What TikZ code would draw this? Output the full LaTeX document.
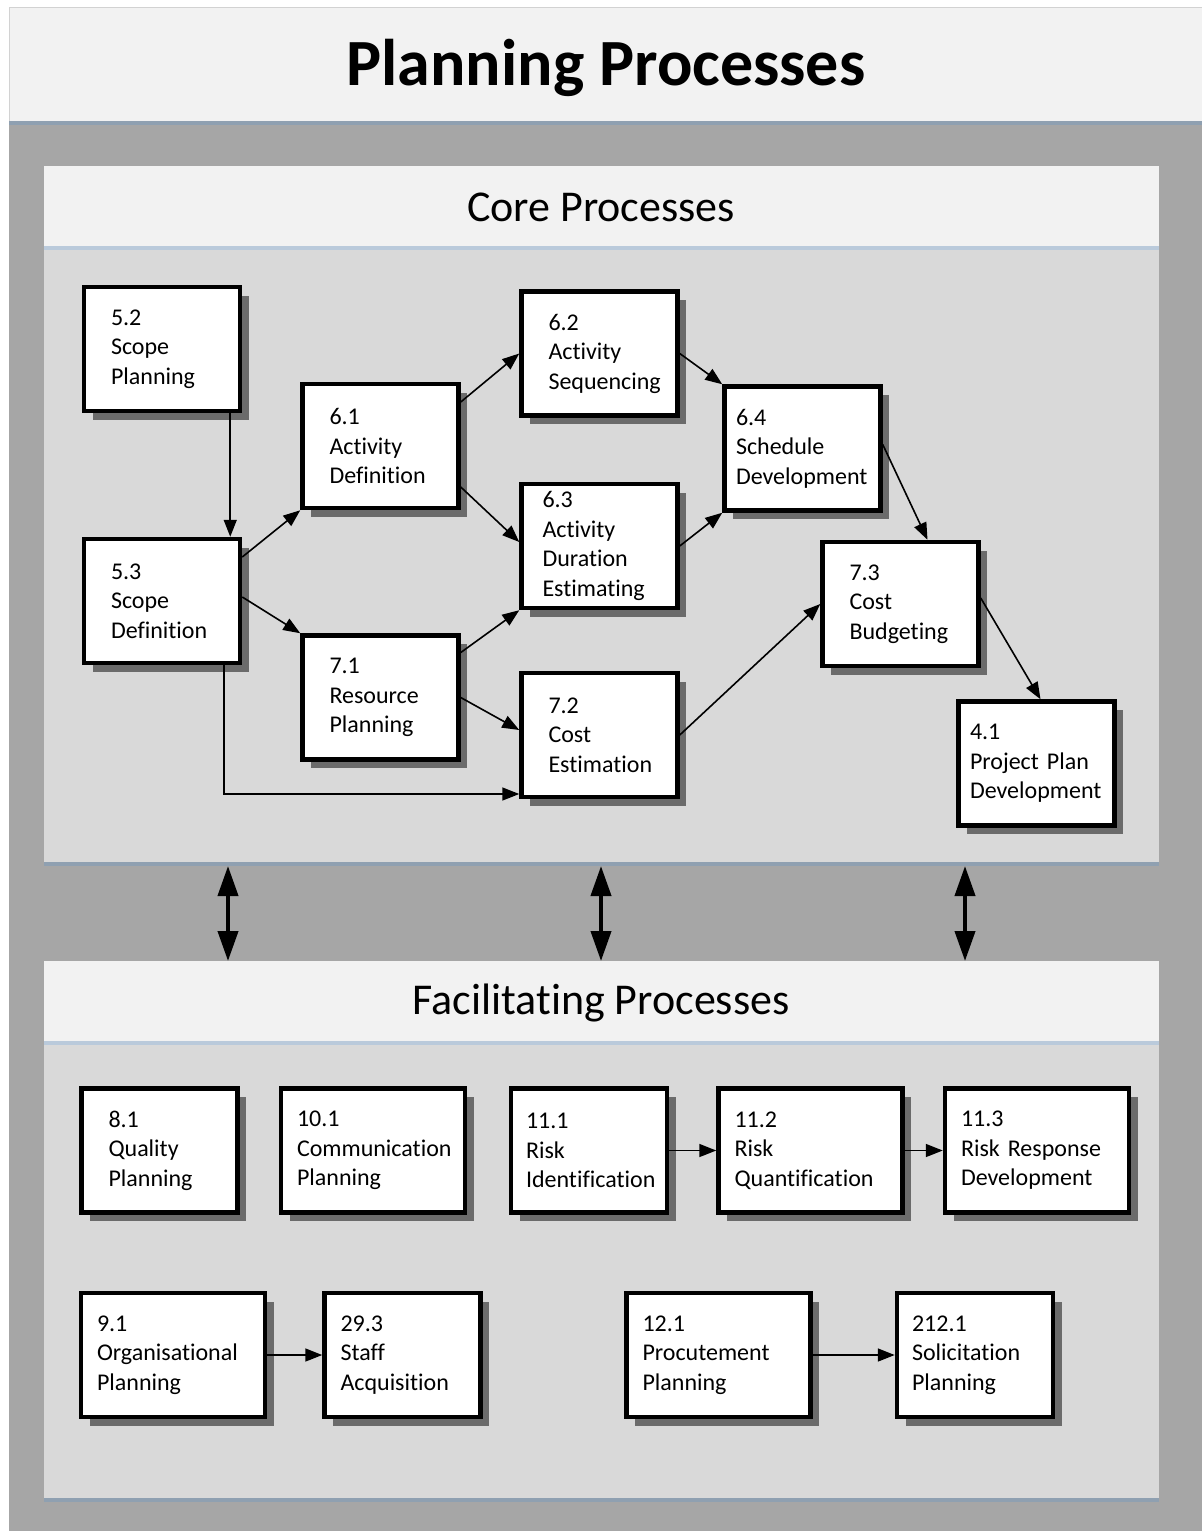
\documentclass[tikz,border=0pt]{standalone}
\usepackage{fontspec}
\setmainfont{Carlito}[Ligatures=NoCommon]
\usetikzlibrary{arrows.meta,shadows}

\definecolor{bandgray}{HTML}{F2F2F2}
\definecolor{bodygray}{HTML}{D9D9D9}
\definecolor{framegray}{HTML}{A6A6A6}
\definecolor{lineblue}{HTML}{BACADB}
\definecolor{linedark}{HTML}{8FA0B1}
\definecolor{shadowgray}{HTML}{6B6B6B}

\newcommand{\boxfont}{\fontsize{24}{29.5}\selectfont}

\tikzset{
  pbox/.style={draw, line width=4.5pt, fill=white, align=left, inner xsep=0pt,
    minimum width=156pt, minimum height=124pt, text width=102pt, font=\boxfont,
    drop shadow={shadow xshift=8.5pt, shadow yshift=-8.5pt, fill=shadowgray, opacity=1}},
  wide/.style={minimum width=184pt, text width=152pt},
  tw/.style={text width=#1},
  arr/.style={-{Triangle[length=17pt,width=13pt]}, line width=1.6pt},
  dbl/.style={{Triangle[length=30pt,width=20pt]}-{Triangle[length=30pt,width=20pt]}, line width=4pt}
}

\begin{document}
\begin{tikzpicture}[x=1pt,y=-1pt]
\useasboundingbox (0,0) rectangle (1202,1531);
% frame and main title band
\fill[white] (0,0) rectangle (1202,1531);
\fill[bandgray] (9,7) rectangle (1202,121);
\draw[gray!35, line width=1pt] (9,1531) -- (9,7) -- (1202,7);
\fill[linedark] (9,121) rectangle (1202,125);
\fill[framegray] (9,125) rectangle (1202,1531);
\node[font=\fontsize{66}{70}\selectfont\bfseries] (title) at (606,68) {Planning Processes};
% core panel
\fill[bandgray] (44,166) rectangle (1159,246);
\fill[lineblue] (44,246) rectangle (1159,250);
\fill[bodygray] (44,250) rectangle (1159,862);
\fill[linedark] (44,862) rectangle (1159,866);
\node[font=\fontsize{44}{48}\selectfont] (core) at (601,207) {Core Processes};
% facilitating panel
\fill[bandgray] (44,961) rectangle (1159,1041);
\fill[lineblue] (44,1041) rectangle (1159,1045);
\fill[bodygray] (44,1045) rectangle (1159,1498);
\fill[linedark] (44,1498) rectangle (1159,1502);
\node[font=\fontsize{44}{48}\selectfont] (facil) at (601,1003) {Facilitating Processes};

% core process boxes
\node[pbox] (p52) at (162,349) {5.2\\Scope\\Planning};
\node[pbox] (p53) at (162,601) {5.3\\Scope\\Definition};
\node[pbox] (p61) at (380.5,446) {6.1\\Activity\\Definition};
\node[pbox] (p62) at (599.5,353.5) {6.2\\Activity\\Sequencing};
\node[pbox, tw=114pt] (p63) at (599.5,546) {6.3\\Activity\\Duration\\Estimating};
\node[pbox, tw=133pt] (p64) at (802.5,448.5) {6.4\\Schedule\\Development};
\node[pbox] (p71) at (380.5,697.5) {7.1\\Resource\\Planning};
\node[pbox] (p72) at (599.5,735) {7.2\\Cost\\Estimation};
\node[pbox] (p73) at (900.5,604) {7.3\\Cost\\Budgeting};
\node[pbox, tw=133pt] (p41) at (1036.5,763.5) {4.1\\Project Plan\\Development};

% core flow
\draw[arr] ([xshift=-12pt]p52.south east) -- ([xshift=-12pt]p53.north east);
\draw[arr] ([yshift=44pt]p53.east) -- (p61.south west);
\draw[arr] ([yshift=4pt]p53.east) -- (p71.north west);
\draw[arr] ([xshift=-18pt]p53.south east) |- ([yshift=-59pt]p72.west);
\draw[arr] ([yshift=44pt]p61.east) -- (p62.west);
\draw[arr] ([yshift=-41pt]p61.east) -- ([yshift=4pt]p63.west);
\draw[arr] ([yshift=45pt]p71.east) -- (p63.south west);
\draw[arr] (p71.east) -- ([yshift=5pt]p72.west);
\draw[arr] (p62.east) -- (p64.north west);
\draw[arr] (p63.east) -- (p64.south west);
\draw[arr] ([yshift=4pt]p64.east) -- ([xshift=27pt]p73.north);
\draw[arr] (p72.east) -- (p73.west);
\draw[arr] ([yshift=6pt]p73.east) -- ([xshift=4pt]p41.north);

% links between the two panels
\coordinate (ca) at (228,866);  \coordinate (fa) at (228,961);
\coordinate (cb) at (601,866);  \coordinate (fb) at (601,961);
\coordinate (cc) at (965,866);  \coordinate (fc) at (965,961);
\draw[dbl] (ca) -- (fa);
\draw[dbl] (cb) -- (fb);
\draw[dbl] (cc) -- (fc);

% facilitating process boxes
\node[pbox] (p81) at (159.5,1150.5) {8.1\\Quality\\Planning};
\node[pbox, wide] (p101) at (373,1150.5) {10.1\\Communication\\Planning};
\node[pbox, tw=126pt] (p111) at (589,1150.5) {11.1\\Risk\\Identification};
\node[pbox, wide] (p112) at (810.5,1150.5) {11.2\\Risk\\Quantification};
\node[pbox, wide] (p113) at (1037,1150.5) {11.3\\Risk Response\\Development};
\node[pbox, wide] (p91) at (173,1355) {9.1\\Organisational\\Planning};
\node[pbox, tw=124pt] (p293) at (402.5,1355) {29.3\\Staff\\Acquisition};
\node[pbox, wide] (p121) at (718.5,1355) {12.1\\Procutement\\Planning};
\node[pbox, tw=126pt] (p2121) at (975,1355) {212.1\\Solicitation\\Planning};

% facilitating flow
\draw[arr] (p111) -- (p112);
\draw[arr] (p112) -- (p113);
\draw[arr] (p91) -- (p293);
\draw[arr] (p121) -- (p2121);
\end{tikzpicture}
\end{document}
